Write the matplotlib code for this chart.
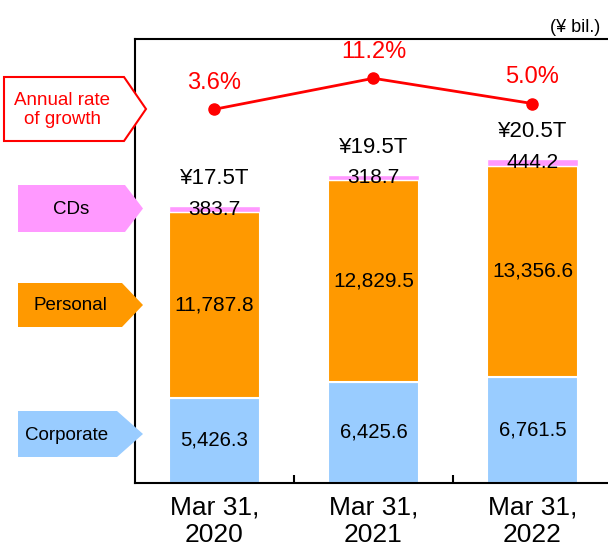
import numpy as np
import matplotlib
matplotlib.use('Agg')
import matplotlib.pyplot as plt
from matplotlib.patches import Polygon

plt.rcParams['font.family'] = ['Liberation Sans', 'DejaVu Sans']

# データ (¥ bil.)
categories = ["Mar 31,\n2020", "Mar 31,\n2021", "Mar 31,\n2022"]
corporate = [5426.3, 6425.6, 6761.5]
personal = [11787.8, 12829.5, 13356.6]
cds = [383.7, 318.7, 444.2]
total_labels = ["¥17.5T", "¥19.5T", "¥20.5T"]
growth = [3.6, 11.2, 5.0]

C_CORP = '#99CCFF'
C_PERS = '#FF9900'
C_CDS = '#FF99FF'
C_RED = '#FF0000'

fig = plt.figure(figsize=(6.08, 5.5), dpi=100)
ax = fig.add_axes([0.222, 0.1218, 0.7845, 0.807])

x = np.arange(len(categories))
w = 0.57
corp = np.array(corporate)
pers = np.array(personal)
cd = np.array(cds)

ax.bar(x, corp, w, color=C_CORP, edgecolor='white', linewidth=1.5)
ax.bar(x, pers, w, bottom=corp, color=C_PERS, edgecolor='white', linewidth=1.5)
ax.bar(x, cd, w, bottom=corp + pers, color=C_CDS, edgecolor='white', linewidth=1.0)

for i in range(len(x)):
    ax.text(x[i], corp[i] / 2, f'{corp[i]:,.1f}', ha='center', va='center', fontsize=14.7)
    ax.text(x[i], corp[i] + pers[i] / 2, f'{pers[i]:,.1f}', ha='center', va='center', fontsize=15)
    top = corp[i] + pers[i] + cd[i]
    ax.text(x[i], top - cd[i] / 2, f'{cd[i]:,.1f}', ha='center', va='center', fontsize=15)
    ax.annotate(total_labels[i], (x[i], top), xytext=(0, 20), textcoords='offset points',
                ha='center', va='center', fontsize=16)

ax.set_xlim(-0.5, 2.5)
ax.set_ylim(0, 28200)
ax.set_yticks([])
ax.set_xticks(x)
ax.set_xticklabels(categories, fontsize=19, linespacing=1.2)
ax.set_xticks([0.5, 1.5], minor=True)
ax.tick_params(axis='x', which='major', length=0, pad=9)
ax.tick_params(axis='x', which='minor', direction='in', length=6, width=1.5)
for s in ['left', 'top', 'bottom']:
    ax.spines[s].set_linewidth(1.5)
ax.spines['right'].set_visible(False)

# 成長率
ax2 = ax.twinx()
ax2.plot(x, growth, color=C_RED, linewidth=2, marker='o', markersize=8)
for i in range(len(x)):
    ax2.annotate(f'{growth[i]:.1f}%', (x[i], growth[i]), xytext=(0, 19), textcoords='offset points',
                 ha='center', va='center', fontsize=17, color=C_RED)
ax2.set_ylim(-88.1, 20.8)
ax2.set_yticks([])
for s in ax2.spines.values():
    s.set_visible(False)

# 左側の矢印ラベル (ピクセル座標)
ov = fig.add_axes([0, 0, 1, 1], zorder=5)
ov.set_xlim(0, 608)
ov.set_ylim(550, 0)
ov.axis('off')
ov.patch.set_alpha(0)

def tag(x0, x1, xk, y0, y1, face, edge, text, color, size, tx):
    ym = (y0 + y1) / 2
    pts = [(x0, y0), (xk, y0), (x1, ym), (xk, y1), (x0, y1)]
    ov.add_patch(Polygon(pts, closed=True, facecolor=face, edgecolor=edge, linewidth=1.5))
    ov.text(tx, ym + 1, text, ha='center', va='center', fontsize=size, color=color,
            linespacing=1.2)

tag(4, 146, 124, 77, 141, 'white', C_RED, 'Annual rate\nof growth', C_RED, 13.5, 62)
tag(18, 143, 125, 185, 232, C_CDS, 'none', 'CDs', 'black', 13.5, 71)
tag(18, 143, 122, 283, 327, C_PERS, 'none', 'Personal', 'black', 13.5, 70)
tag(18, 143, 117, 411, 457, C_CORP, 'none', 'Corporate', 'black', 13.5, 67)

ov.text(600, 28, '(¥ bil.)', ha='right', va='center', fontsize=13)

fig.savefig('out.png', dpi=100)
